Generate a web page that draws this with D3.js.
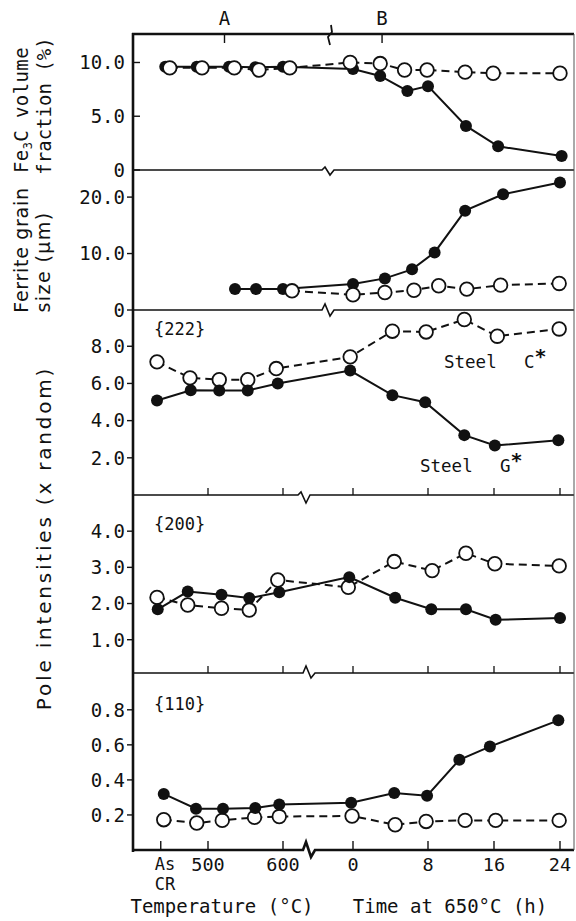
<!DOCTYPE html>
<html><head><meta charset="utf-8">
<script src="https://cdn.jsdelivr.net/npm/d3@7"></script>
<style>
html,body{margin:0;padding:0;background:#fff;}
svg text{font-family:"DejaVu Sans Mono",monospace;fill:#111;}
svg text.sans{font-family:"DejaVu Sans",sans-serif;}
</style></head><body>
<svg id="chart" width="576" height="921"></svg>
<script>
// ---------- axis definitions ----------
const AS_CR = 437;                       // position of the "As CR" category on the temperature axis
const tempTicks = [AS_CR, 500, 600];
const tempTickLabels = [["As", "CR"], ["500"], ["600"]];
const timeTicks = [0, 8, 16, 24];
const markerLabels = ["A", "B"];
const markerTemp = 522;                  // A on temperature axis
const markerTime = 3.1;                  // B on time axis

// ---------- Panel 1: Fe3C volume fraction (%) ----------
const fe3c_G_T  = [443, 485, 528, 563, 600];
const fe3c_G_Tv = [9.6, 9.6, 9.6, 9.55, 9.6];
const fe3c_G_h  = [0, 2.9, 5.8, 8, 12.6, 16.5, 24.2];
const fe3c_G_hv = [9.4, 8.75, 7.35, 7.8, 4.1, 2.2, 1.3];
const fe3c_C_T  = [449, 492, 535, 568, 609];
const fe3c_C_Tv = [9.5, 9.5, 9.5, 9.3, 9.5];
const fe3c_C_h  = [-0.3, 2.9, 5.5, 7.9, 12.5, 15.9, 24];
const fe3c_C_hv = [10.0, 9.9, 9.3, 9.3, 9.1, 9.0, 9.0];
const fe3c_ticks = [0, 5, 10];

// ---------- Panel 2: Ferrite grain size (um) ----------
const grain_G_T  = [536, 564, 600];
const grain_G_Tv = [3.7, 3.7, 3.7];
const grain_G_h  = [0, 3.4, 6.3, 8.8, 12.5, 17.1, 24];
const grain_G_hv = [4.6, 5.6, 7.2, 10.2, 17.6, 20.5, 22.6];
const grain_C_T  = [612];
const grain_C_Tv = [3.4];
const grain_C_h  = [0, 3.4, 6.5, 9.3, 12.7, 16.8, 23.9];
const grain_C_hv = [2.7, 3.1, 3.5, 4.3, 3.7, 4.4, 4.7];
const grain_ticks = [0, 10, 20];

// ---------- Panel 3: {222} pole intensity ----------
const p222_C_T  = [432, 476, 515, 553, 591];
const p222_C_Tv = [7.16, 6.3, 6.2, 6.2, 6.8];
const p222_C_h  = [-0.3, 4.2, 7.8, 12.4, 16.4, 23.9];
const p222_C_hv = [7.43, 8.81, 8.77, 9.44, 8.54, 8.93];
const p222_G_T  = [432, 477, 515, 553, 593];
const p222_G_Tv = [5.08, 5.63, 5.62, 5.62, 6.0];
const p222_G_h  = [-0.3, 4.2, 7.7, 12.4, 16.1, 23.8];
const p222_G_hv = [6.69, 5.37, 4.99, 3.22, 2.66, 2.95];
const p222_ticks = [2, 4, 6, 8];

// ---------- Panel 4: {200} pole intensity ----------
const p200_C_T  = [432, 473, 518, 555, 593];
const p200_C_Tv = [2.17, 1.96, 1.87, 1.82, 2.65];
const p200_C_h  = [-0.5, 4.4, 8.5, 12.6, 16.1, 23.9];
const p200_C_hv = [2.45, 3.16, 2.91, 3.39, 3.10, 3.04];
const p200_G_T  = [433, 473, 518, 555, 595];
const p200_G_Tv = [1.84, 2.33, 2.24, 2.15, 2.31];
const p200_G_h  = [-0.4, 4.5, 8.4, 12.6, 16.2, 24];
const p200_G_hv = [2.73, 2.16, 1.84, 1.84, 1.55, 1.6];
const p200_ticks = [1, 2, 3, 4];

// ---------- Panel 5: {110} pole intensity ----------
const p110_G_T  = [441, 484, 520, 563, 595];
const p110_G_Tv = [0.32, 0.236, 0.236, 0.24, 0.26];
const p110_G_h  = [-0.2, 4.4, 7.9, 11.8, 15.5, 23.8];
const p110_G_hv = [0.27, 0.325, 0.31, 0.515, 0.59, 0.74];
const p110_C_T  = [441, 485, 519, 562, 595];
const p110_C_Tv = [0.173, 0.154, 0.169, 0.186, 0.191];
const p110_C_h  = [-0.1, 4.5, 7.8, 12.5, 16.2, 23.9];
const p110_C_hv = [0.194, 0.144, 0.163, 0.169, 0.169, 0.169];
const p110_ticks = [0.2, 0.4, 0.6, 0.8];

// ---------- layout ----------
const X0 = 133, X1 = 574;
const svg = d3.select("#chart");
const xT = d3.scaleLinear().domain([500, 600]).range([208, 283]);
const xH = d3.scaleLinear().domain(timeTicks).range([353, 428, 494, 560]);

const panels = [
  {top: 34,  bottom: 170, dom: [0, 12.65], ticks: fe3c_ticks, fmt: v => v === 0 ? "0" : v.toFixed(1), openTop: true,
   G: [fe3c_G_T, fe3c_G_Tv, fe3c_G_h, fe3c_G_hv], C: [fe3c_C_T, fe3c_C_Tv, fe3c_C_h, fe3c_C_hv], tickIn: true},
  {top: 170, bottom: 310, dom: [0, 24.8], ticks: grain_ticks, fmt: v => v === 0 ? "0" : v.toFixed(1), openTop: true,
   G: [grain_G_T, grain_G_Tv, grain_G_h, grain_G_hv], C: [grain_C_T, grain_C_Tv, grain_C_h, grain_C_hv]},
  {top: 310, bottom: 495, dom: [0, 9.95], ticks: p222_ticks, fmt: v => v.toFixed(1), openTop: false, label: "{222}", labelY: 335,
   G: [p222_G_T, p222_G_Tv, p222_G_h, p222_G_hv], C: [p222_C_T, p222_C_Tv, p222_C_h, p222_C_hv], xticks: true},
  {top: 495, bottom: 673, dom: [0.08, 5], ticks: p200_ticks, fmt: v => v.toFixed(1), openTop: false, label: "{200}", labelY: 530,
   G: [p200_G_T, p200_G_Tv, p200_G_h, p200_G_hv], C: [p200_C_T, p200_C_Tv, p200_C_h, p200_C_hv], xticks: true},
  {top: 673, bottom: 850, dom: [0, 1.01], ticks: p110_ticks, fmt: v => v.toFixed(1), openTop: false, label: "{110}", labelY: 710,
   G: [p110_G_T, p110_G_Tv, p110_G_h, p110_G_hv], C: [p110_C_T, p110_C_Tv, p110_C_h, p110_C_hv]}
];

const line = d3.line();
function pts(s, y) {
  const [T, Tv, h, hv] = s;
  return T.map((t, i) => [xT(t), y(Tv[i])]).concat(h.map((t, i) => [xH(t), y(hv[i])]));
}

// boundary line with axis-break symbol
function breakPath(y, bx, up, down) {
  return `M${X0},${y}H${bx - 7}L${bx - 4},${y - up}L${bx + 1},${y + down}L${bx + 5},${y}H${X1}`;
}

const frame = svg.append("g").attr("fill", "none").attr("stroke", "#111");
// top frame with kink
frame.append("path").attr("d", `M${X0 - 1},34H${X1}`).attr("stroke-width", 2.6);
frame.append("path").attr("d", "M331,25L332,32L328,37L330,45").attr("stroke-width", 1.8);
// panel boundaries
[[170, 329, 3, 5], [310, 329, 6, 6], [495, 305, 3, 8], [673, 310, 7, 5]].forEach(([y, bx, u, d]) => {
  frame.append("path").attr("d", breakPath(y, bx, u, d)).attr("stroke-width", 1.6);
});
// bottom axis
frame.append("path").attr("d", breakPath(850, 310, 8, 7)).attr("stroke-width", 2.6);
// left / right
frame.append("line").attr("x1", X0).attr("x2", X0).attr("y1", 33).attr("y2", 852).attr("stroke-width", 2.6);
frame.append("line").attr("x1", X1).attr("x2", X1).attr("y1", 34).attr("y2", 850).attr("stroke-width", 1).attr("stroke", "#555");

// top ticks A, B
const topTicks = [xT(markerTemp), xH(markerTime)];
topTicks.forEach((x, i) => {
  frame.append("line").attr("x1", x).attr("x2", x).attr("y1", 34).attr("y2", 43).attr("stroke-width", 1.4);
  svg.append("text").attr("x", x).attr("y", 25).attr("text-anchor", "middle")
    .attr("font-size", 19).text(markerLabels[i]);
});

// bottom ticks & labels
const bottomTickX = tempTicks.map(v => xT(v)).concat(timeTicks.map(v => xH(v)));
bottomTickX.forEach(x => {
  frame.append("line").attr("x1", x).attr("x2", x).attr("y1", 850).attr("y2", 841).attr("stroke-width", 1.4);
});
tempTicks.forEach((v, i) => {
  const lab = tempTickLabels[i];
  if (lab.length > 1) {
    lab.forEach((s, j) => svg.append("text").attr("x", xT(v) - 6).attr("y", 870 + j * 20)
      .attr("text-anchor", "start").attr("font-size", 17).text(s));
  } else {
    svg.append("text").attr("x", xT(v)).attr("y", 871).attr("text-anchor", "middle")
      .attr("font-size", 18.5).text(lab[0]);
  }
});
timeTicks.forEach(v => {
  svg.append("text").attr("x", xH(v)).attr("y", 871).attr("text-anchor", "middle")
    .attr("font-size", 18.5).text(v);
});
svg.append("text").attr("x", 222).attr("y", 913).attr("text-anchor", "middle").attr("font-size", 19).text("Temperature (°C)");
svg.append("text").attr("x", 450).attr("y", 913).attr("text-anchor", "middle").attr("font-size", 19).text("Time at 650°C (h)");

// panels
panels.forEach(p => {
  const y = d3.scaleLinear().domain(p.dom).range([p.bottom, p.top]);
  // y ticks
  p.ticks.forEach(v => {
    const yy = y(v);
    if (p.tickIn) frame.append("line").attr("x1", X0).attr("x2", X0 + 7).attr("y1", yy).attr("y2", yy).attr("stroke-width", 1.4);
    else frame.append("line").attr("x1", X0 - 6).attr("x2", X0).attr("y1", yy).attr("y2", yy).attr("stroke-width", 1.4);
    svg.append("text").attr("x", 125).attr("y", yy).attr("dy", "0.36em").attr("text-anchor", "end")
      .attr("font-size", 19).text(p.fmt(v));
  });
  // x ticks on boundary at panel bottom
  if (p.xticks) {
    tempTicks.slice(1).map(v => xT(v)).concat(timeTicks.map(v => xH(v))).forEach(x => {
      frame.append("line").attr("x1", x).attr("x2", x).attr("y1", p.bottom).attr("y2", p.bottom - 7).attr("stroke-width", 1.3);
    });
  }
  if (p.label) {
    svg.append("text").attr("x", 154).attr("y", p.labelY).attr("font-size", 17).text(p.label);
  }
  const g = svg.append("g");
  const gPts = pts(p.G, y), cPts = pts(p.C, y);
  g.append("path").attr("d", line(cPts)).attr("fill", "none").attr("stroke", "#111")
    .attr("stroke-width", 2).attr("stroke-dasharray", "8,5");
  g.append("path").attr("d", line(gPts)).attr("fill", "none").attr("stroke", "#111").attr("stroke-width", 2);
  const drawOpen = () => g.selectAll(null).data(cPts).enter().append("circle")
    .attr("cx", d => d[0]).attr("cy", d => d[1]).attr("r", 6.8)
    .attr("fill", "#fff").attr("stroke", "#111").attr("stroke-width", 1.8);
  const drawFilled = () => g.selectAll(null).data(gPts).enter().append("circle")
    .attr("cx", d => d[0]).attr("cy", d => d[1]).attr("r", 6).attr("fill", "#111");
  if (p.openTop) { drawFilled(); drawOpen(); } else { drawOpen(); drawFilled(); }
});

// series labels in {222} panel
function steelLabel(x, y, letter) {
  const t = svg.append("text").attr("x", x).attr("y", y).attr("font-size", 17.5);
  t.append("tspan").text("Steel");
  t.append("tspan").attr("x", x + 80).text(letter);
  t.append("tspan").attr("dy", -5).attr("font-size", 20).attr("font-weight", "bold").text("*");
}
steelLabel(444, 368, "C");
steelLabel(420, 472, "G");

// y-axis titles (rotated)
function vtext(x, y, parts, opts) {
  const t = svg.append("text").attr("transform", `translate(${x},${y}) rotate(-90)`)
    .attr("text-anchor", "middle").attr("font-size", opts.size).attr("letter-spacing", opts.ls);
  if (opts.sans) t.attr("class", "sans");
  parts.forEach(pt => {
    const s = t.append("tspan").text(pt.t);
    if (pt.sub) s.attr("font-size", 12).attr("dy", 4);
    if (pt.back) s.attr("dy", -4);
  });
}
vtext(28, 110, [{t: "Fe"}, {t: "3", sub: true}, {t: "C volume", back: true}], {size: 19, ls: 0.4});
vtext(51, 106, [{t: "fraction (%)"}], {size: 19, ls: 0});
vtext(28, 250, [{t: "Ferrite grain"}], {size: 19, ls: 0.7, sans: true});
vtext(50, 262, [{t: "size (μm)"}], {size: 19, ls: 1.4, sans: true});
vtext(51, 538, [{t: "Pole intensities (x random)"}], {size: 20, ls: 2.8, sans: true});
</script>
</body></html>
